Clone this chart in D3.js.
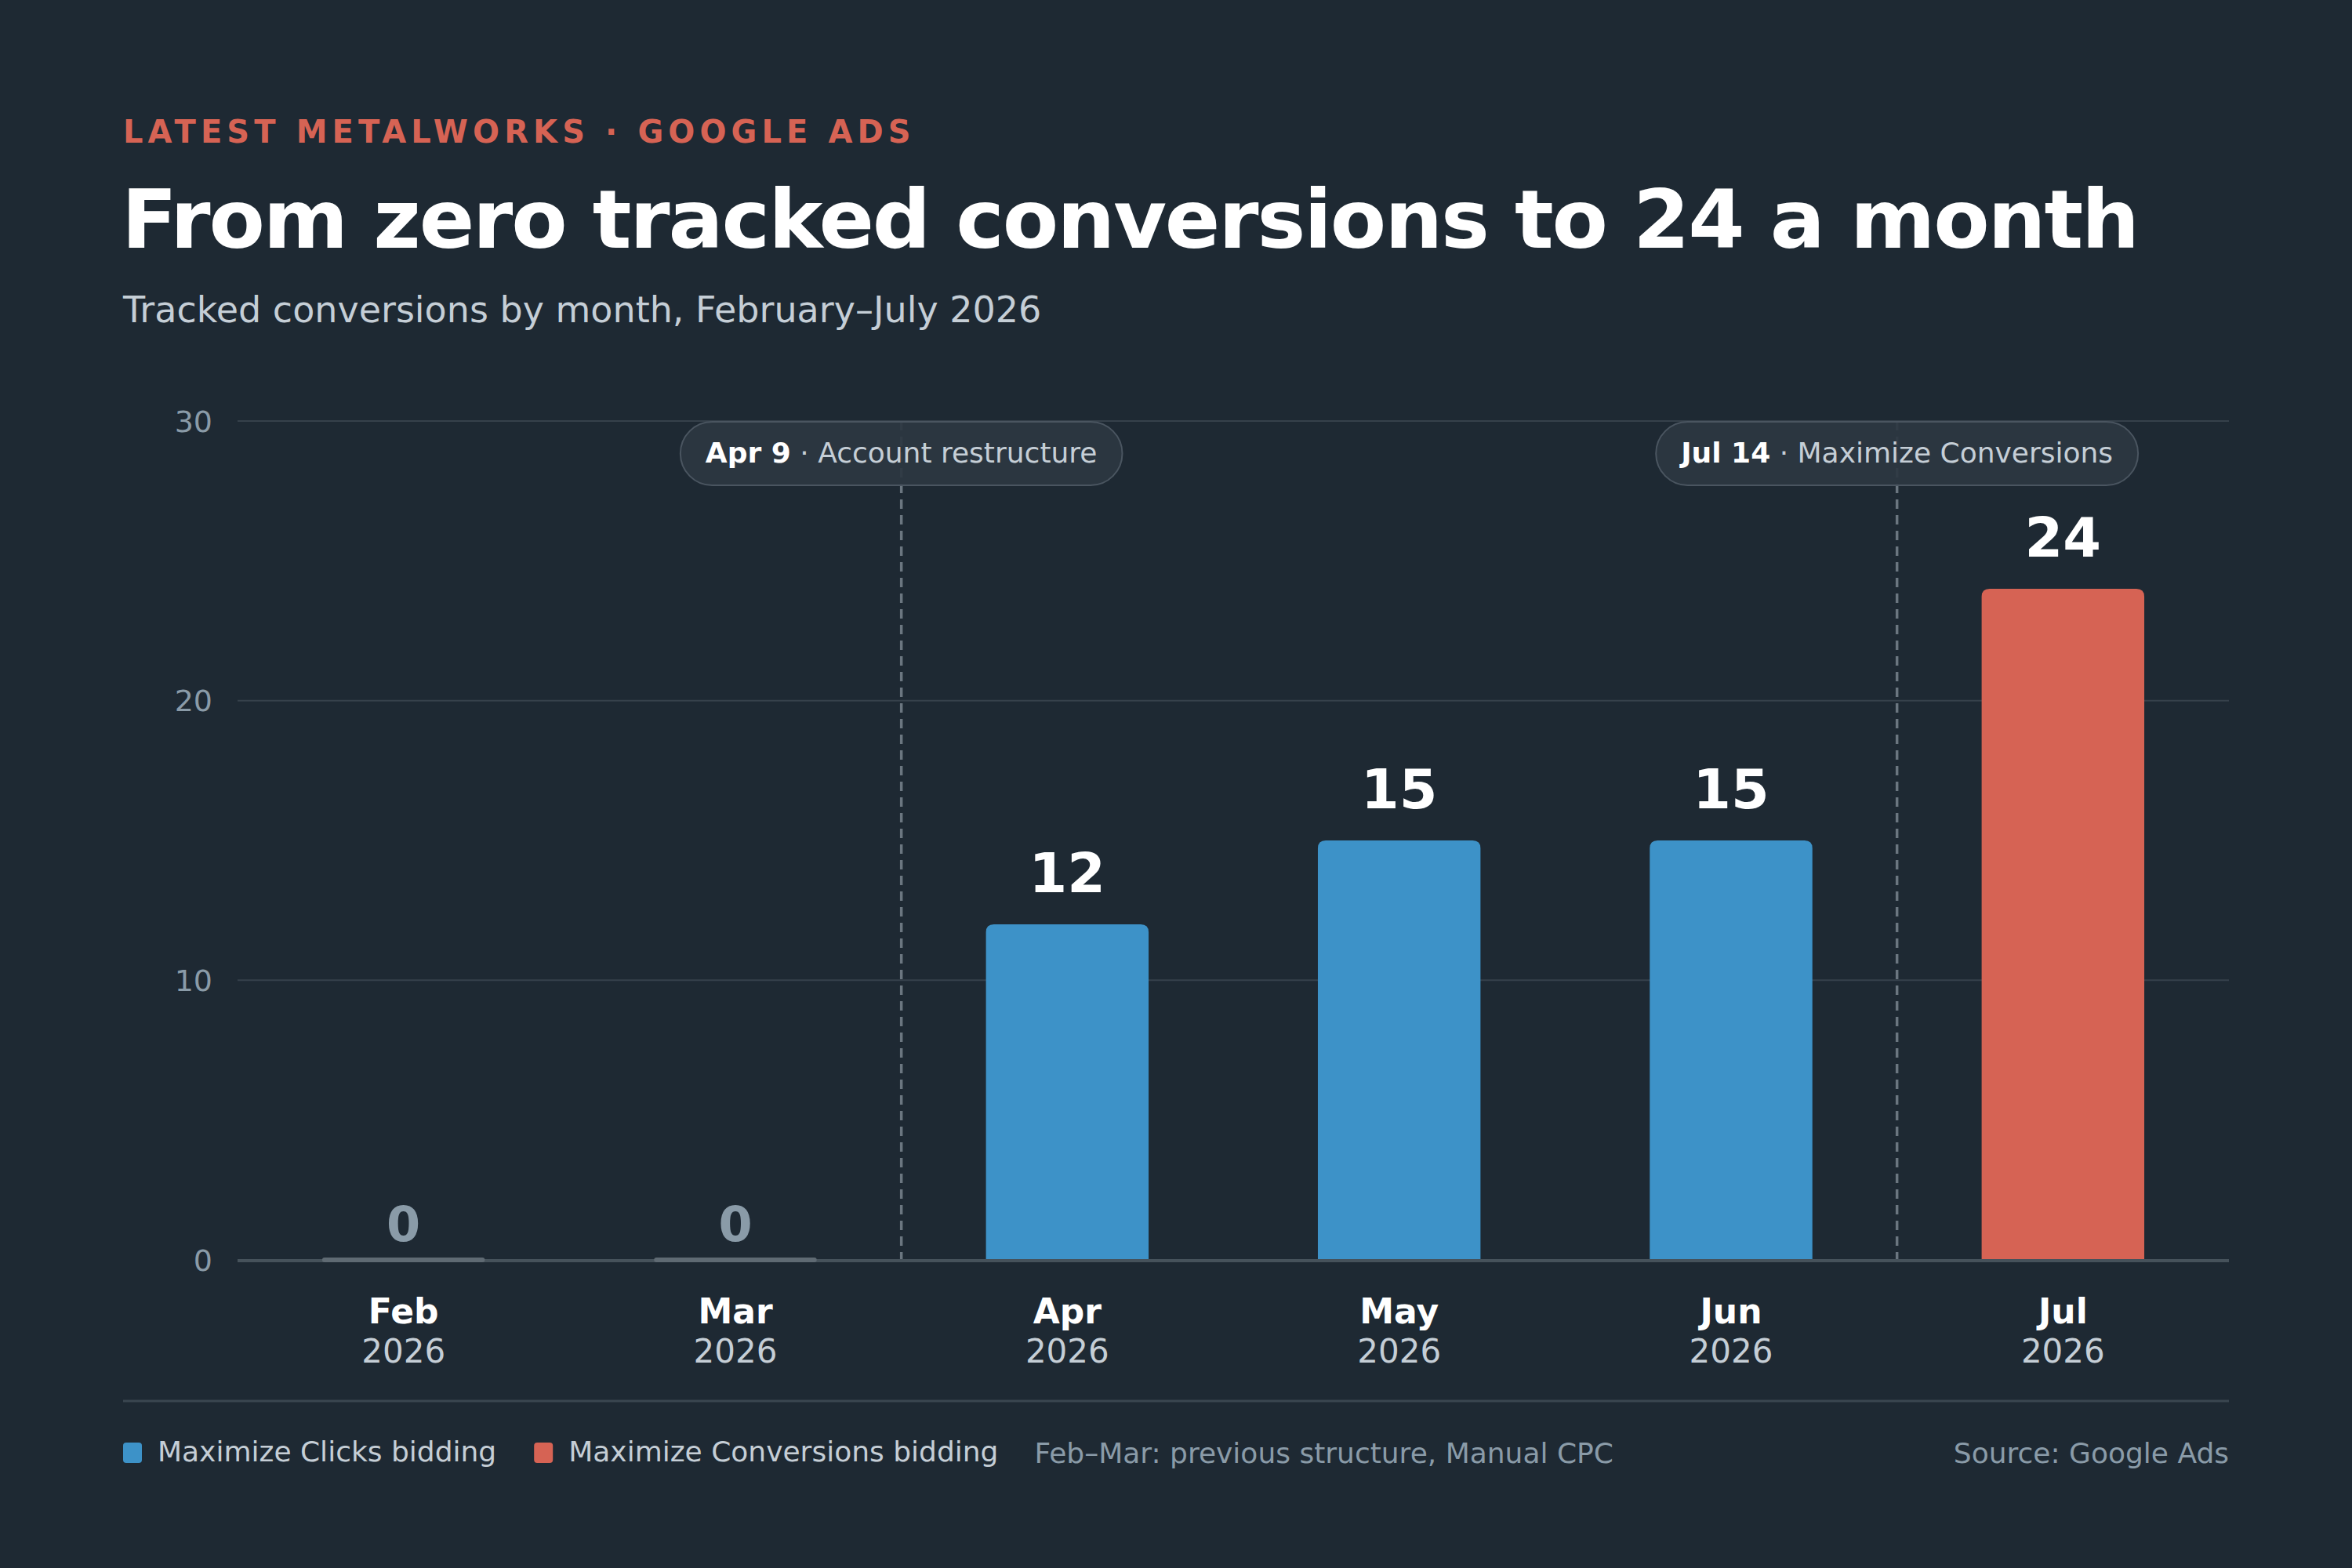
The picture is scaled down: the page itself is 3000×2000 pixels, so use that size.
<!DOCTYPE html>
<html>
<head>
<meta charset="utf-8">
<script src="https://cdn.jsdelivr.net/npm/d3@7"></script>
<style>
  html, body { margin: 0; padding: 0; background: #1e2933; }
  svg { display: block; font-family: "DejaVu Sans", sans-serif; }
</style>
</head>
<body>
<svg id="chart" width="3000" height="2000"></svg>
<script>
// ---- data ----
const months = ["Feb", "Mar", "Apr", "May", "Jun", "Jul"];
const years = ["2026", "2026", "2026", "2026", "2026", "2026"];
const conversions = [0, 0, 12, 15, 15, 24];
const bidding = ["Manual CPC", "Manual CPC", "Maximize Clicks", "Maximize Clicks", "Maximize Clicks", "Maximize Conversions"];
const yTicks = [0, 10, 20, 30];
const annotationMonths = ["Apr", "Jul"];
const annotationDates = ["Apr 9", "Jul 14"];
const annotationLabels = ["Account restructure", "Maximize Conversions"];
const legendLabels = ["Maximize Clicks bidding", "Maximize Conversions bidding"];
const legendKeys = ["Maximize Clicks", "Maximize Conversions"];

// ---- styles ----
const C = {
  bg: "#1e2933",
  accent: "#d66354",
  blue: "#3d92c8",
  red: "#d66354",
  zero: "#5f6a73",
  white: "#ffffff",
  light: "#c5ced6",
  muted: "#8a9ba8",
  grid: "#36414b",
  base: "#46525b",
  pillFill: "#2c3741",
  pillStroke: "#4a5560",
  dash: "#6b7680",
  sep: "#3a4650"
};
const colorFor = b => b === "Maximize Clicks" ? C.blue : (b === "Maximize Conversions" ? C.red : C.zero);

const svg = d3.select("#chart");
svg.append("rect").attr("width", 3000).attr("height", 2000).attr("fill", C.bg);

// ---- header ----
svg.append("text").attr("x", 157).attr("y", 182)
  .attr("font-size", 40).attr("font-weight", "bold").attr("letter-spacing", 6.1)
  .attr("fill", C.accent).text("LATEST METALWORKS · GOOGLE ADS");
svg.append("text").attr("x", 155).attr("y", 316)
  .attr("font-size", 104).attr("font-weight", "bold").attr("letter-spacing", -2.1)
  .attr("fill", C.white).text("From zero tracked conversions to 24 a month");
svg.append("text").attr("x", 157).attr("y", 411)
  .attr("font-size", 46).attr("fill", C.light)
  .text("Tracked conversions by month, February–July 2026");

// ---- scales ----
const x0 = 303, x1 = 2843, yTop = 537, yBot = 1607;
const x = d3.scaleBand().domain(months).range([x0, x1]).paddingInner(0.51).paddingOuter(0.255);
const y = d3.scaleLinear().domain([0, 30]).range([yBot, yTop]);

// gridlines
const g = svg.append("g");
g.selectAll("line.grid").data(yTicks.filter(t => t !== 0)).join("line")
  .attr("class", "grid")
  .attr("x1", x0).attr("x2", x1)
  .attr("y1", d => y(d)).attr("y2", d => y(d))
  .attr("stroke", C.grid).attr("stroke-width", 2);

// y axis labels
const yAxis = d3.axisLeft(y).tickValues(yTicks).tickSize(0).tickPadding(0).tickFormat(d3.format("d"));
const ya = svg.append("g").attr("transform", `translate(271,0)`).call(yAxis);
ya.select(".domain").remove();
ya.selectAll("text").attr("font-size", 38).attr("fill", C.muted)
  .attr("font-family", "DejaVu Sans, sans-serif").attr("dy", "0.35em");

// annotation dashed lines
const step = x.step();
const boundary = m => x(m) + x.bandwidth() / 2 - step / 2;
svg.selectAll("line.annot").data(annotationMonths).join("line")
  .attr("class", "annot")
  .attr("x1", d => boundary(d)).attr("x2", d => boundary(d))
  .attr("y1", yTop).attr("y2", yBot)
  .attr("stroke", C.dash).attr("stroke-width", 3.5).attr("stroke-dasharray", "12,8");

// bars
const data = months.map((m, i) => ({ m, year: years[i], v: conversions[i], b: bidding[i] }));
const r = 10;
function topRounded(xl, yt, w, h, rad) {
  rad = Math.min(rad, h, w / 2);
  return `M${xl},${yt + h}V${yt + rad}Q${xl},${yt} ${xl + rad},${yt}H${xl + w - rad}Q${xl + w},${yt} ${xl + w},${yt + rad}V${yt + h}Z`;
}
svg.selectAll("path.bar").data(data.filter(d => d.v > 0)).join("path")
  .attr("class", "bar")
  .attr("d", d => topRounded(x(d.m), y(d.v), x.bandwidth(), yBot + 3 - y(d.v), r))
  .attr("fill", d => colorFor(d.b));

// baseline
svg.append("line").attr("x1", x0).attr("x2", x1).attr("y1", yBot + 1).attr("y2", yBot + 1)
  .attr("stroke", C.base).attr("stroke-width", 4);

// zero bars
svg.selectAll("rect.zero").data(data.filter(d => d.v === 0)).join("rect")
  .attr("class", "zero")
  .attr("x", d => x(d.m)).attr("y", yBot - 3).attr("width", x.bandwidth()).attr("height", 6)
  .attr("rx", 3).attr("fill", C.zero);

// value labels
svg.selectAll("text.val").data(data).join("text")
  .attr("class", "val")
  .attr("x", d => x(d.m) + x.bandwidth() / 2)
  .attr("y", d => d.v === 0 ? yBot - 24 : y(d.v) - 41)
  .attr("text-anchor", "middle")
  .attr("font-size", d => d.v === 0 ? 62 : 70)
  .attr("font-weight", "bold")
  .attr("fill", d => d.v === 0 ? C.muted : C.white)
  .text(d => d.v);

// x labels
const xl = svg.selectAll("g.xl").data(data).join("g").attr("class", "xl")
  .attr("transform", d => `translate(${x(d.m) + x.bandwidth() / 2},0)`);
xl.append("text").attr("y", 1688).attr("text-anchor", "middle")
  .attr("font-size", 44).attr("font-weight", "bold").attr("fill", C.white).text(d => d.m);
xl.append("text").attr("y", 1738).attr("text-anchor", "middle")
  .attr("font-size", 42).attr("fill", C.light).text(d => d.year);

// annotation pills
annotationMonths.forEach((m, i) => {
  const cx = boundary(m);
  const pg = svg.append("g");
  const pill = pg.append("rect");
  const t = pg.append("text").attr("y", 590).attr("font-size", 36);
  t.append("tspan").attr("font-weight", "bold").attr("fill", C.white).text(annotationDates[i]);
  t.append("tspan").attr("fill", C.light).text(" · " + annotationLabels[i]);
  const w = t.node().getComputedTextLength();
  const pw = w + 64;
  t.attr("x", cx - w / 2);
  pill.attr("x", cx - pw / 2).attr("y", 538).attr("width", pw).attr("height", 81)
    .attr("rx", 40.5).attr("fill", C.pillFill).attr("fill-opacity", 0.92)
    .attr("stroke", C.pillStroke).attr("stroke-width", 2);
});

// separator
svg.append("line").attr("x1", 157).attr("x2", x1).attr("y1", 1787).attr("y2", 1787)
  .attr("stroke", C.sep).attr("stroke-width", 3);

// legend
const lg = svg.append("g");
let lx = 157;
legendKeys.forEach((k, i) => {
  lg.append("rect").attr("x", lx).attr("y", 1840).attr("width", 24).attr("height", 26)
    .attr("rx", 4).attr("fill", colorFor(k));
  const tt = lg.append("text").attr("x", lx + 44).attr("y", 1864)
    .attr("font-size", 36).attr("fill", C.light).text(legendLabels[i]);
  lx = lx + 44 + tt.node().getComputedTextLength() + 48;
});
lg.append("text").attr("x", lx - 2).attr("y", 1866).attr("font-size", 36)
  .attr("fill", C.muted).text("Feb–Mar: previous structure, Manual CPC");
svg.append("text").attr("x", x1).attr("y", 1866).attr("text-anchor", "end")
  .attr("font-size", 36).attr("fill", C.muted).text("Source: Google Ads");
</script>
</body>
</html>
